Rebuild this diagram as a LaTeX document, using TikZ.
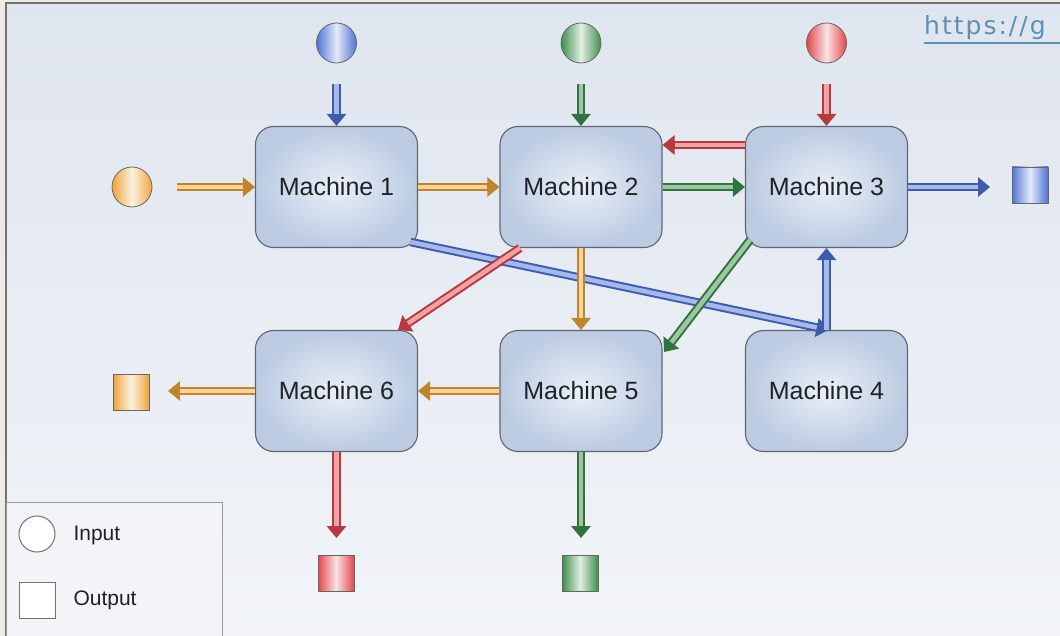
\documentclass[tikz,border=0pt]{standalone}
\usepackage{fontspec}
\setmainfont{Liberation Sans}
\newfontfamily\linkfont[LetterSpace=8]{DejaVu Sans}
\usetikzlibrary{arrows.meta,calc}

\definecolor{cblue}{HTML}{4F73D6}
\definecolor{cgreen}{HTML}{3E8E4C}
\definecolor{cred}{HTML}{E2474D}
\definecolor{corange}{HTML}{EFA53A}
\definecolor{boxedge}{HTML}{5E6673}
\definecolor{boxin}{HTML}{EAEFF7}
\definecolor{boxout}{HTML}{BCCBE2}
\definecolor{paneltop}{HTML}{DFE5EF}
\definecolor{panelbot}{HTML}{F2F4F8}
\definecolor{outside}{HTML}{EEEBE4}
\definecolor{linkcol}{HTML}{5E90B6}
\definecolor{textcol}{HTML}{1E2226}

\tikzset{
  machine/.style={draw=boxedge, line width=1.1pt, rounded corners=18pt,
    inner color=boxin, outer color=boxout,
    minimum width=162pt, minimum height=121pt, text=textcol,
    font=\fontsize{25}{30}\selectfont},
  source/.style={circle, draw=black!60, line width=0.8pt, inner sep=0pt,
    minimum size=40pt, left color=#1, right color=#1, middle color=#1!15!white},
  sink/.style={rectangle, draw=black!60, line width=0.8pt, inner sep=0pt,
    minimum size=36pt, left color=#1, right color=#1, middle color=#1!15!white},
  flow/.style={draw=#1!80!black, line width=8.5pt,
    -{Triangle[length=12pt,width=19pt]},
    postaction={draw=#1!50!white, line width=4.5pt, arrows=-, shorten >=12pt}},
  legendtext/.style={anchor=west, text=textcol, font=\fontsize{21}{25}\selectfont},
}

\begin{document}
\begin{tikzpicture}[x=1pt, y=-1pt]
  \useasboundingbox (0,0) rectangle (1060,636);
  \clip (0,0) rectangle (1060,636);

  % window background and frame
  \fill[outside] (0,0) rectangle (1060,636);
  \shade[top color=paneltop, bottom color=panelbot] (6,3) rectangle (1070,640);
  \draw[black!55, line width=1.6pt] (6,640) -- (6,3) -- (1070,3);

  % link text in the corner
  \node[anchor=base west, text=linkcol, font=\linkfont\fontsize{25}{30}\selectfont,
        inner sep=0pt] (link) at (924,35) {https://g};
  \draw[linkcol, line width=1.2pt] (link.base west) ++(0,8) -- ++(140,0);

  % machines
  \node[machine] (m1) at (336.5,187) {Machine 1};
  \node[machine] (m2) at (581,187)   {Machine 2};
  \node[machine] (m3) at (826.5,187) {Machine 3};
  \node[machine] (m6) at (336.5,391) {Machine 6};
  \node[machine] (m5) at (581,391)   {Machine 5};
  \node[machine] (m4) at (826.5,391) {Machine 4};

  % inputs
  \node[source=cblue]   (inb) at (336.5,43) {};
  \node[source=cgreen]  (ing) at (581,43)   {};
  \node[source=cred]    (inr) at (826.5,43) {};
  \node[source=corange] (ino) at (132,187)  {};

  % outputs
  \node[sink=cblue]   (outb) at (1030,185)  {};
  \node[sink=corange] (outo) at (131,392)   {};
  \node[sink=cred]    (outr) at (336,573)   {};
  \node[sink=cgreen]  (outg) at (580,573)   {};

  % arrow start and end points beside the inputs and outputs
  \coordinate (sb) at ($(inb.south)+(0,21)$);
  \coordinate (sg) at ($(ing.south)+(0,21)$);
  \coordinate (sr) at ($(inr.south)+(0,21)$);
  \coordinate (so) at ($(ino.east)+(25,0)$);
  \coordinate (eb) at ($(m3.east)+(82,0)$);
  \coordinate (eo) at ($(m6.west)+(-87,0)$);
  \coordinate (er) at ($(m6.south)+(0,86)$);
  \coordinate (eg) at ($(m5.south)+(0,86)$);

  % flows into the machines
  \draw[flow=cblue]   (sb) -- (m1.north);
  \draw[flow=cgreen]  (sg) -- (m2.north);
  \draw[flow=cred]    (sr) -- (m3.north);
  \draw[flow=corange] (so) -- (m1.west);

  % flows between machines
  \draw[flow=corange] (m1.east) -- (m2.west);
  \draw[flow=cgreen]  (m2.east) -- (m3.west);
  \draw[flow=cred]    ($(m3.west)+(0,-42)$) -- ($(m2.east)+(0,-42)$);
  \draw[flow=cblue]   ($(m1.center)+(74,55)$) -- ($(m4.north)+(2,0)$);
  \draw[flow=cred]    ($(m2.center)+(-61,61)$) -- ($(m6.center)+(61.5,-61)$);
  \draw[flow=corange] (m2.south) -- (m5.north);
  \draw[flow=cgreen]  ($(m3.center)+(-76.5,53)$) -- ($(m5.center)+(83,-39)$);
  \draw[flow=cblue]   (m4.north) -- (m3.south);
  \draw[flow=corange] (m5.west) -- (m6.east);

  % flows to the outputs
  \draw[flow=cblue]   (m3.east)  -- (eb);
  \draw[flow=corange] (m6.west)  -- (eo);
  \draw[flow=cred]    (m6.south) -- (er);
  \draw[flow=cgreen]  (m5.south) -- (eg);

  % legend
  \draw[black!40, line width=1pt, fill=panelbot] (6,502) rectangle (222,650);
  \node[circle, draw=black!55, line width=1pt, fill=white, minimum size=36pt,
        inner sep=0pt] (legin) at (37,534) {};
  \node[rectangle, draw=black!55, line width=1pt, fill=white, minimum size=36pt,
        inner sep=0pt] (legout) at (37,600) {};
  \node[legendtext] (legintext)  at (70,535) {Input};
  \node[legendtext] (legouttext) at (70,600) {Output};
\end{tikzpicture}
\end{document}
